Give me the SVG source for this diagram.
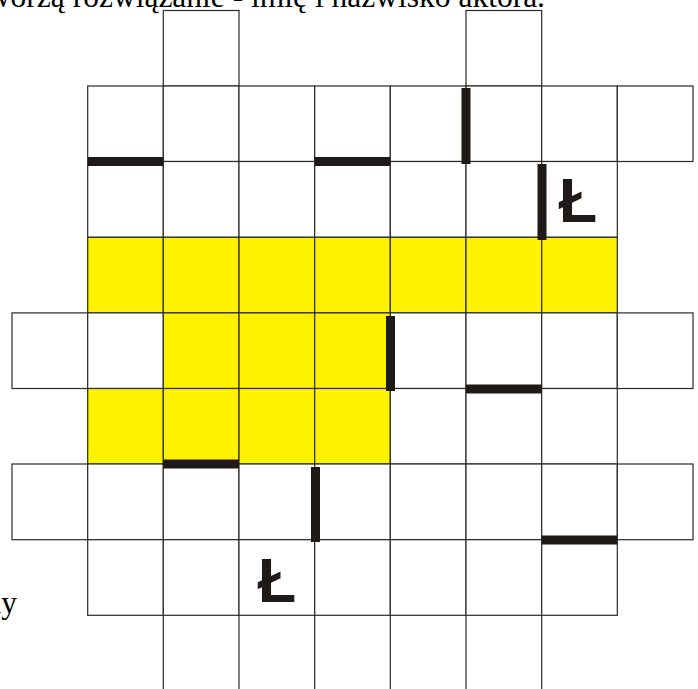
<svg xmlns="http://www.w3.org/2000/svg" width="698" height="689" viewBox="0 0 698 689">
<style>
.c{fill:#ffffff;stroke:#2a2a2a;stroke-width:1.2}
.y{fill:#fff200;stroke:#2a2a2a;stroke-width:1.2}
.v{stroke:#2a2a2a;stroke-width:1.2}
.b{fill:#1f1a17}
.t{font-family:"Liberation Serif","Times New Roman",serif;font-size:31.5px;fill:#000}
.L{font-family:"Liberation Sans",Arial,sans-serif;font-weight:bold;font-size:63px;fill:#1f1a17}
</style>
<rect width="698" height="689" fill="#ffffff"/>
<text class="t" x="545" y="7" text-anchor="end">tworzą rozwiązanie - imię i nazwisko aktora.</text>
<text class="t" x="17" y="613" text-anchor="end">ny</text>
<g id="grid">
<!-- row 0 -->
<rect class="c" x="163.3" y="10.5" width="75.7" height="75.5"/>
<rect class="c" x="466" y="10.5" width="75.7" height="75.5"/>
<!-- row 1 -->
<rect class="c" x="87.7" y="86" width="75.6" height="75.5"/>
<rect class="c" x="163.3" y="86" width="75.7" height="75.5"/>
<rect class="c" x="239" y="86" width="75.7" height="75.5"/>
<rect class="c" x="314.7" y="86" width="75.6" height="75.5"/>
<rect class="c" x="390.3" y="86" width="75.7" height="75.5"/>
<rect class="c" x="466" y="86" width="75.7" height="75.5"/>
<rect class="c" x="541.7" y="86" width="75.6" height="75.5"/>
<rect class="c" x="617.3" y="86" width="75.7" height="75.5"/>
<!-- row 2 -->
<rect class="c" x="87.7" y="161.5" width="75.6" height="75.8"/>
<rect class="c" x="163.3" y="161.5" width="75.7" height="75.8"/>
<rect class="c" x="239" y="161.5" width="75.7" height="75.8"/>
<rect class="c" x="314.7" y="161.5" width="75.6" height="75.8"/>
<rect class="c" x="390.3" y="161.5" width="75.7" height="75.8"/>
<rect class="c" x="466" y="161.5" width="75.7" height="75.8"/>
<rect class="c" x="541.7" y="161.5" width="75.6" height="75.8"/>
<!-- row 3 -->
<rect class="y" x="87.7" y="237.3" width="75.6" height="75.6"/>
<rect class="y" x="163.3" y="237.3" width="75.7" height="75.6"/>
<rect class="y" x="239" y="237.3" width="75.7" height="75.6"/>
<rect class="y" x="314.7" y="237.3" width="75.6" height="75.6"/>
<rect class="y" x="390.3" y="237.3" width="75.7" height="75.6"/>
<rect class="y" x="466" y="237.3" width="75.7" height="75.6"/>
<rect class="y" x="541.7" y="237.3" width="75.6" height="75.6"/>
<!-- row 4 -->
<rect class="c" x="12" y="312.9" width="75.7" height="75.6"/>
<rect class="c" x="87.7" y="312.9" width="75.6" height="75.6"/>
<rect class="y" x="163.3" y="312.9" width="75.7" height="75.6"/>
<rect class="y" x="239" y="312.9" width="75.7" height="75.6"/>
<rect class="y" x="314.7" y="312.9" width="75.6" height="75.6"/>
<rect class="c" x="390.3" y="312.9" width="75.7" height="75.6"/>
<rect class="c" x="466" y="312.9" width="75.7" height="75.6"/>
<rect class="c" x="541.7" y="312.9" width="75.6" height="75.6"/>
<rect class="c" x="617.3" y="312.9" width="75.7" height="75.6"/>
<!-- row 5 -->
<rect class="y" x="87.7" y="388.5" width="75.6" height="75.5"/>
<rect class="y" x="163.3" y="388.5" width="75.7" height="75.5"/>
<rect class="y" x="239" y="388.5" width="75.7" height="75.5"/>
<rect class="y" x="314.7" y="388.5" width="75.6" height="75.5"/>
<rect class="c" x="390.3" y="388.5" width="75.7" height="75.5"/>
<rect class="c" x="466" y="388.5" width="75.7" height="75.5"/>
<rect class="c" x="541.7" y="388.5" width="75.6" height="75.5"/>
<!-- row 6 -->
<rect class="c" x="12" y="464" width="75.7" height="75.7"/>
<rect class="c" x="87.7" y="464" width="75.6" height="75.7"/>
<rect class="c" x="163.3" y="464" width="75.7" height="75.7"/>
<rect class="c" x="239" y="464" width="75.7" height="75.7"/>
<rect class="c" x="314.7" y="464" width="75.6" height="75.7"/>
<rect class="c" x="390.3" y="464" width="75.7" height="75.7"/>
<rect class="c" x="466" y="464" width="75.7" height="75.7"/>
<rect class="c" x="541.7" y="464" width="75.6" height="75.7"/>
<rect class="c" x="617.3" y="464" width="75.7" height="75.7"/>
<!-- row 7 -->
<rect class="c" x="87.7" y="539.7" width="75.6" height="75.6"/>
<rect class="c" x="163.3" y="539.7" width="75.7" height="75.6"/>
<rect class="c" x="239" y="539.7" width="75.7" height="75.6"/>
<rect class="c" x="314.7" y="539.7" width="75.6" height="75.6"/>
<rect class="c" x="390.3" y="539.7" width="75.7" height="75.6"/>
<rect class="c" x="466" y="539.7" width="75.7" height="75.6"/>
<rect class="c" x="541.7" y="539.7" width="75.6" height="75.6"/>
<!-- row 8 open -->
<line class="v" x1="163.3" y1="615.3" x2="163.3" y2="689"/>
<line class="v" x1="239" y1="615.3" x2="239" y2="689"/>
<line class="v" x1="314.7" y1="615.3" x2="314.7" y2="689"/>
<line class="v" x1="390.3" y1="615.3" x2="390.3" y2="689"/>
<line class="v" x1="466" y1="615.3" x2="466" y2="689"/>
<line class="v" x1="541.7" y1="615.3" x2="541.7" y2="689"/>
</g>
<g id="bars">
<rect class="b" x="87.7" y="157" width="75.6" height="9"/>
<rect class="b" x="314.7" y="157" width="75.6" height="9"/>
<rect class="b" x="461.5" y="88" width="9" height="76"/>
<rect class="b" x="537.5" y="164" width="9" height="76"/>
<rect class="b" x="386" y="316" width="9" height="75"/>
<rect class="b" x="466" y="384.5" width="75.7" height="9"/>
<rect class="b" x="163.3" y="459.5" width="75.7" height="9"/>
<rect class="b" x="311" y="467" width="9" height="75"/>
<rect class="b" x="541.7" y="535.5" width="75.6" height="9"/>
</g>
<g id="letters">
<text class="L" x="578" y="222" text-anchor="middle">Ł</text>
<text class="L" x="277" y="602" text-anchor="middle">Ł</text>
</g>
</svg>
